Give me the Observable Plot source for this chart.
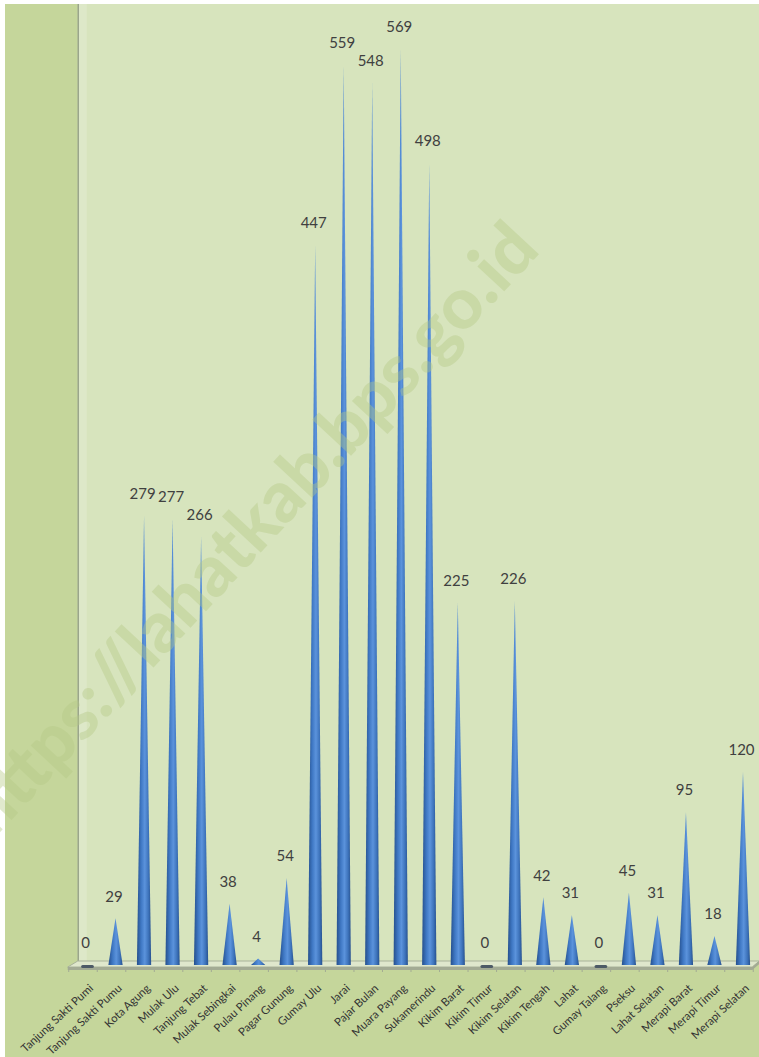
<!DOCTYPE html>
<html><head><meta charset="utf-8">
<script src="https://cdn.jsdelivr.net/npm/d3@7"></script>
<script src="https://cdn.jsdelivr.net/npm/@observablehq/plot@0.6"></script>
<style>
html,body{margin:0;background:#fff;}
#chart{position:absolute;left:5px;top:4px;width:754px;height:1053px;}
</style></head><body><div id="chart"></div>
<script>
const categories = ["Tanjung Sakti Pumi","Tanjung Sakti Pumu","Kota Agung","Mulak Ulu","Tanjung Tebat","Mulak Sebingkai","Pulau Pinang","Pagar Gunung","Gumay Ulu","Jarai","Pajar Bulan","Muara Payang","Sukamerindu","Kikim Barat","Kikim Timur","Kikim Selatan","Kikim Tengah","Lahat","Gumay Talang","Pseksu","Lahat Selatan","Merapi Barat","Merapi Timur","Merapi Selatan"];
const values = [0,29,279,277,266,38,4,54,447,559,548,569,498,225,0,226,42,31,0,45,31,95,18,120];
const watermark = "https://lahatkab.bps.go.id";

const W = 754, H = 1053;
const idx = d3.range(categories.length);
const hw = 0.25;
const coneRows = idx.filter(i => values[i] > 0).flatMap(i => [
  {i, x: i - hw, y: 0}, {i, x: i, y: values[i]}, {i, x: i + hw, y: 0}
]);
const zeroIdx = idx.filter(i => values[i] === 0);

const plot = Plot.plot({
  width: W, height: H,
  marginLeft: 67.74, marginRight: 1.74, marginTop: 1, marginBottom: 92,
  x: {domain: [-0.5, categories.length - 0.5], axis: null},
  y: {domain: [0, 596], axis: null},
  style: {background: "transparent", fontFamily: "Lato, sans-serif", overflow: "visible"},
  marks: [
    Plot.areaY(coneRows, {x: "x", y: "y", z: "i", fill: "url(#coneGrad)", curve: "linear"}),
    Plot.link(zeroIdx, {x1: i => i - 0.17, x2: i => i + 0.17, y1: 0, y2: 0, stroke: "#4d5a66", strokeWidth: 3, strokeLinecap: "round", dy: 1}),
    Plot.text(idx, {x: i => i, y: i => values[i], text: i => String(values[i]), dy: -22, dx: -2, fontSize: 15, fill: "#404040"}),
    Plot.axisX(idx, {tickFormat: i => categories[i], tickRotate: -43, tickSize: 0, tickPadding: 21, dx: 4, fontSize: 11.3, fill: "#333", anchor: "bottom", label: null})
  ]
});

const svg = d3.select(plot);
const xs = plot.scale("x"), ys = plot.scale("y");
const defs = svg.insert("defs", ":first-child");
const g = defs.append("linearGradient").attr("id", "coneGrad").attr("x1", 0).attr("x2", 1).attr("y1", 0).attr("y2", 0);
[["0%", "#254f8c"], ["30%", "#3f78c4"], ["55%", "#5b93dc"], ["80%", "#3e74bc"], ["100%", "#27518e"]]
  .forEach(([o, c]) => g.append("stop").attr("offset", o).attr("stop-color", c));

const base = ys.apply(0);
const xL = xs.apply(-0.5), xR = xs.apply(categories.length - 0.5);
const bg = svg.insert("g", "defs + *");
bg.append("rect").attr("width", W).attr("height", H).attr("fill", "#c5d69b");
bg.append("rect").attr("x", xL + 5).attr("y", 0).attr("width", W - xL - 5).attr("height", base - 4).attr("fill", "#d7e4bd");
bg.append("rect").attr("x", xL + 6).attr("y", 0).attr("width", 8).attr("height", base - 4).attr("fill", "#dde8c8");
bg.append("line").attr("x1", xL + 5.5).attr("x2", xL + 5.5).attr("y1", 0).attr("y2", base - 4).attr("stroke", "#9aa58a").attr("stroke-width", 1.5);
// floor
const backY = base - 4, frontY = base + 2, botY = base + 5;
bg.append("path").attr("d", `M${xL + 5},${backY} L${xR + 2},${backY} L${xR - 5},${frontY} L${xL - 5},${frontY} Z`)
  .attr("fill", "#dfe7cc").attr("stroke", "#a9b39a").attr("stroke-width", 1);
bg.append("path").attr("d", `M${xL - 5},${frontY} L${xR - 5},${frontY} L${xR + 2},${backY} L${xR + 2},${backY + 3} L${xR - 5},${botY} L${xL - 5},${botY} Z`)
  .attr("fill", "#a3ab94");
d3.range(-1, categories.length).forEach(i => {
  const x = xs.apply(i + 0.5) - 4;
  bg.append("line").attr("x1", x).attr("x2", x).attr("y1", frontY).attr("y2", botY + 2).attr("stroke", "#a3ab94");
});
// watermark on top
svg.append("text").text(watermark)
  .attr("transform", `translate(249,529) rotate(-47)`)
  .attr("text-anchor", "middle").attr("dominant-baseline", "middle").attr("font-family", "Lato, sans-serif").attr("font-weight", 900)
  .attr("font-size", 71).attr("fill", "#b5c985").attr("opacity", 0.4).attr("pointer-events", "none");
document.getElementById("chart").appendChild(plot);
</script></body></html>
